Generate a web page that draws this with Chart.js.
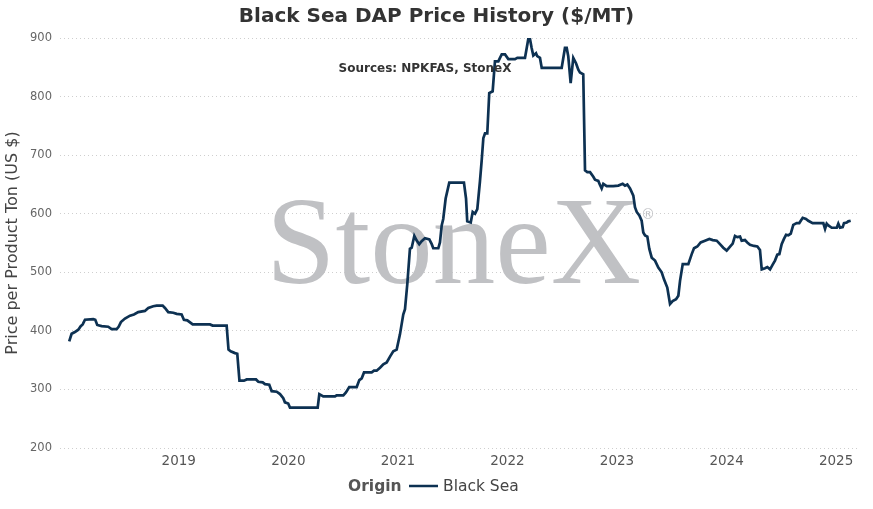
<!DOCTYPE html>
<html>
<head>
<meta charset="utf-8">
<title>Black Sea DAP Price History</title>
<script src="https://cdn.jsdelivr.net/npm/chart.js@4.4.1/dist/chart.umd.min.js"></script>
<style>
  html, body { margin: 0; padding: 0; background: #fff; }
  #wrap { width: 873px; height: 509px; position: relative; }
</style>
</head>
<body>
<div id="wrap"><canvas id="dapChart"></canvas></div>
<script>
// decimal years (weekly-ish observations)
const years = [
  2018.000, 2018.022, 2018.052, 2018.083, 2018.105, 2018.123, 2018.144, 2018.220, 2018.238, 2018.256,
  2018.296, 2018.356, 2018.387, 2018.433, 2018.451, 2018.472, 2018.509, 2018.555, 2018.591, 2018.630,
  2018.691, 2018.722, 2018.767, 2018.798, 2018.853, 2018.874, 2018.904, 2018.950, 2018.981, 2019.026,
  2019.047, 2019.078, 2019.127, 2019.285, 2019.309, 2019.437, 2019.454, 2019.474, 2019.513, 2019.534,
  2019.554, 2019.595, 2019.620, 2019.705, 2019.726, 2019.766, 2019.787, 2019.826, 2019.848, 2019.894,
  2019.924, 2019.954, 2019.969, 2019.999, 2020.015, 2020.268, 2020.283, 2020.319, 2020.426, 2020.441,
  2020.502, 2020.526, 2020.556, 2020.624, 2020.648, 2020.670, 2020.691, 2020.761, 2020.782, 2020.806,
  2020.837, 2020.867, 2020.898, 2020.928, 2020.958, 2020.989, 2021.019, 2021.049, 2021.065, 2021.086,
  2021.110, 2021.126, 2021.150, 2021.172, 2021.195, 2021.217, 2021.247, 2021.287, 2021.309, 2021.323,
  2021.369, 2021.384, 2021.400, 2021.414, 2021.436, 2021.469, 2021.603, 2021.622, 2021.633, 2021.665,
  2021.683, 2021.704, 2021.725, 2021.749, 2021.765, 2021.780, 2021.795, 2021.816, 2021.834, 2021.865,
  2021.886, 2021.917, 2021.932, 2021.948, 2021.978, 2022.008, 2022.069, 2022.090, 2022.160, 2022.176,
  2022.190, 2022.206, 2022.221, 2022.236, 2022.261, 2022.272, 2022.297, 2022.313, 2022.495, 2022.525,
  2022.541, 2022.555, 2022.577, 2022.601, 2022.626, 2022.647, 2022.662, 2022.692, 2022.708, 2022.729,
  2022.754, 2022.784, 2022.799, 2022.829, 2022.845, 2022.860, 2022.875, 2022.906, 2022.966, 2023.012,
  2023.052, 2023.073, 2023.094, 2023.119, 2023.149, 2023.164, 2023.180, 2023.204, 2023.225, 2023.240,
  2023.256, 2023.277, 2023.295, 2023.317, 2023.347, 2023.377, 2023.408, 2023.429, 2023.459, 2023.484,
  2023.508, 2023.539, 2023.560, 2023.575, 2023.600, 2023.651, 2023.682, 2023.703, 2023.733, 2023.764,
  2023.803, 2023.843, 2023.874, 2023.910, 2023.940, 2023.970, 2024.001, 2024.032, 2024.056, 2024.077,
  2024.098, 2024.123, 2024.138, 2024.168, 2024.189, 2024.214, 2024.251, 2024.281, 2024.305, 2024.321,
  2024.351, 2024.372, 2024.397, 2024.421, 2024.442, 2024.463, 2024.482, 2024.503, 2024.524, 2024.543,
  2024.564, 2024.586, 2024.609, 2024.640, 2024.664, 2024.695, 2024.725, 2024.746, 2024.786, 2024.883,
  2024.899, 2024.914, 2024.929, 2024.960, 2025.006, 2025.020, 2025.036, 2025.060, 2025.072, 2025.097,
  2025.111, 2025.133
];

// Black Sea DAP, $/MT
const blackSea = [
  382, 395, 398, 402, 408, 411, 419, 420, 419, 410,
  408, 407, 403, 403, 407, 415, 421, 426, 428, 432,
  434, 439, 442, 443, 443, 439, 432, 431, 429, 428,
  419, 418, 411, 411, 409, 409, 368, 365, 362, 361,
  315, 315, 317, 317, 313, 312, 309, 308, 297, 296,
  292, 285, 278, 276, 269, 269, 292, 288, 288, 290,
  290, 295, 304, 304, 316, 319, 329, 329, 332, 332,
  337, 343, 346, 356, 365, 368, 394, 428, 437, 480,
  540, 542, 562, 554, 548, 553, 558, 556, 548, 541,
  541, 551, 580, 591, 626, 653, 653, 626, 587, 585,
  603, 600, 608, 655, 691, 729, 737, 737, 806, 809,
  860, 860, 866, 872, 872, 864, 864, 866, 866, 883,
  898, 898, 883, 870, 874, 869, 866, 849, 849, 883,
  883, 869, 823, 866, 857, 846, 841, 838, 674, 671,
  671, 663, 658, 656, 649, 643, 651, 647, 647, 648,
  651, 648, 650, 643, 631, 611, 603, 597, 588, 568,
  563, 561, 540, 525, 520, 508, 500, 488, 474, 446,
  451, 454, 460, 485, 514, 514, 531, 541, 544, 551,
  554, 557, 555, 554, 548, 542, 537, 544, 549, 562,
  560, 561, 554, 555, 551, 547, 545, 544, 538, 505,
  507, 509, 505, 513, 520, 530, 531, 548, 557, 564,
  563, 566, 581, 584, 584, 593, 591, 588, 584, 584,
  574, 583, 580, 576, 576, 583, 576, 577, 584, 585,
  587, 588
];

const yearTicks = [2019, 2020, 2021, 2022, 2023, 2024, 2025];
const priceTicks = [200, 300, 400, 500, 600, 700, 800, 900];

const lineColor = "#0d3152";
const font = "'DejaVu Sans', Verdana, sans-serif";

// --------------------
// watermark, source note and legend
// --------------------
const extras = {
    id: "extras",
    beforeDatasetsDraw(chart) {
        const ctx = chart.ctx;
        ctx.save();
        ctx.fillStyle = "#c0c1c4";
        ctx.font = "125px 'Liberation Serif', 'Times New Roman', serif";
        ctx.textBaseline = "alphabetic";
        ctx.textAlign = "left";
        ctx.fillText("StoneX", 266, 283);
        ctx.font = "14px " + font;
        ctx.fillText("®", 641, 219);
        ctx.restore();
    },
    afterDraw(chart) {
        const ctx = chart.ctx;
        ctx.save();
        ctx.fillStyle = "#333";
        ctx.font = "bold 12px " + font;
        ctx.textAlign = "center";
        ctx.textBaseline = "middle";
        ctx.fillText("Sources: NPKFAS, StoneX", 425, 69);

        // legend
        ctx.textAlign = "left";
        ctx.fillStyle = "#555";
        ctx.font = "bold 15.5px " + font;
        ctx.fillText("Origin", 348, 487);
        ctx.strokeStyle = lineColor;
        ctx.lineWidth = 2.5;
        ctx.beginPath();
        ctx.moveTo(409, 486);
        ctx.lineTo(438, 486);
        ctx.stroke();
        ctx.fillStyle = "#444";
        ctx.font = "15.5px " + font;
        ctx.fillText("Black Sea", 443, 487);
        ctx.restore();
    }
};

new Chart(document.getElementById("dapChart"), {
    type: "line",
    data: {
        datasets: [{
            label: "Black Sea",
            data: years.map((x, i) => ({ x: x, y: blackSea[i] })),
            borderColor: lineColor,
            backgroundColor: lineColor,
            borderWidth: 2.7,
            pointRadius: 0,
            tension: 0
        }]
    },
    options: {
        responsive: true,
        maintainAspectRatio: false,
        animation: false,
        layout: {
            padding: { left: 13, right: 13, top: 0, bottom: 31 }
        },
        plugins: {
            legend: { display: false },
            tooltip: { enabled: false },
            title: {
                display: true,
                text: "Black Sea DAP Price History ($/MT)",
                color: "#333",
                font: { family: font, size: 20, weight: "bold" },
                padding: { top: 5, bottom: 9 }
            }
        },
        scales: {
            x: {
                type: "linear",
                min: 2017.916,
                max: 2025.218,
                afterBuildTicks: (scale) => {
                    scale.ticks = yearTicks.map(v => ({ value: v }));
                },
                afterFit: (scale) => { scale.height = 30; },
                ticks: {
                    color: "#555",
                    font: { family: font, size: 13.5 },
                    padding: 5,
                    maxRotation: 0,
                    callback: (v) => String(v)
                },
                grid: { display: false, drawTicks: false },
                border: { display: false }
            },
            y: {
                min: 200,
                max: 900,
                afterBuildTicks: (scale) => {
                    scale.ticks = priceTicks.map(v => ({ value: v }));
                },
                afterFit: (scale) => { scale.width = 47; },
                ticks: {
                    color: "#666",
                    font: { family: font, size: 11.5 },
                    padding: 8
                },
                grid: { color: "#cfcfcf", lineWidth: 1, drawTicks: false },
                border: { display: false, dash: [1, 3] },
                title: {
                    display: true,
                    text: "Price per Product Ton (US $)",
                    color: "#444",
                    font: { family: font, size: 16 },
                    padding: { top: -10, bottom: 0 }
                }
            }
        }
    },
    plugins: [extras]
});
</script>
</body>
</html>
